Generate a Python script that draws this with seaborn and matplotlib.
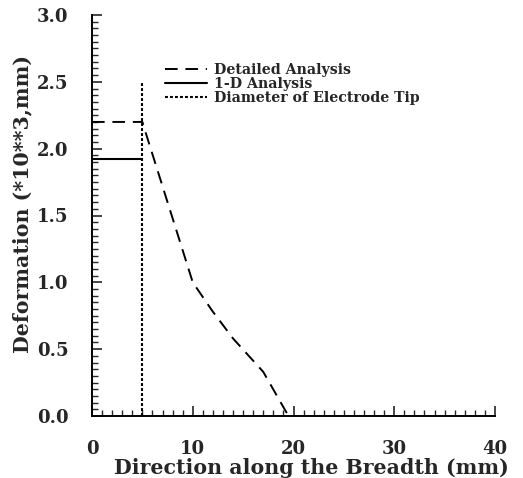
import matplotlib
matplotlib.use("Agg")
import matplotlib.pyplot as plt
import seaborn as sns
import pandas as pd
from matplotlib.ticker import MultipleLocator

# Data
detailed_x = [0, 5, 5.2, 10, 12, 14, 17, 19.5]
detailed_y = [2.2, 2.2, 2.15, 1.0, 0.78, 0.58, 0.33, 0.0]
oned_x = [0, 5]
oned_y = [1.92, 1.92]
tip_x = [5, 5]
tip_y = [0.0, 2.5]
series_labels = ["Detailed Analysis", "1-D Analysis", "Diameter of Electrode Tip"]
x_ticks = [0, 10, 20, 30, 40]
y_ticks = [0.0, 0.5, 1.0, 1.5, 2.0, 2.5, 3.0]

sns.set_style("ticks")
plt.rcParams["font.family"] = ["DejaVu Serif"]
plt.rcParams["font.weight"] = "bold"

fig = plt.figure(figsize=(5.23, 4.78), dpi=100)
ax = fig.add_axes([92 / 523, 1 - 416 / 478, 403 / 523, 401 / 478])

df_det = pd.DataFrame({"x": detailed_x, "y": detailed_y})
df_one = pd.DataFrame({"x": oned_x, "y": oned_y})
df_tip = pd.DataFrame({"x": tip_x, "y": tip_y})

sns.lineplot(data=df_det, x="x", y="y", ax=ax, color="black", lw=1.4,
             sort=False, estimator=None, label=series_labels[0])
ax.lines[-1].set_dashes([6.5, 4])
sns.lineplot(data=df_one, x="x", y="y", ax=ax, color="black", lw=1.5,
             sort=False, estimator=None, label=series_labels[1])
sns.lineplot(data=df_tip, x="x", y="y", ax=ax, color="black", lw=1.5,
             sort=False, estimator=None, label=series_labels[2])
ax.lines[-1].set_dashes([1.4, 1.0])

ax.set_xlim(0, 40)
ax.set_ylim(0, 3.0)
ax.set_xticks(x_ticks)
ax.set_yticks(y_ticks)
ax.set_xticklabels([str(v) for v in x_ticks])
ax.set_yticklabels([f"{v:.1f}" for v in y_ticks])
ax.xaxis.set_minor_locator(MultipleLocator(1))
ax.yaxis.set_minor_locator(MultipleLocator(0.05))
ax.tick_params(which="major", direction="in", length=7, width=1.2,
               labelsize=13)
ax.tick_params(axis="x", which="major", pad=17.5)
ax.tick_params(axis="y", which="major", pad=17)
ax.tick_params(which="minor", direction="in", length=4, width=1.0)
for lab in ax.get_xticklabels() + ax.get_yticklabels():
    lab.set_fontweight("bold")

for s in ["top", "right"]:
    ax.spines[s].set_visible(False)
for s in ["left", "bottom"]:
    ax.spines[s].set_linewidth(1.4)
    ax.spines[s].set_color("black")

ax.set_xlabel("Direction along the Breadth (mm)", fontsize=14.8, fontweight="bold")
ax.set_ylabel("Deformation (*10**3,mm)", fontsize=14.8, fontweight="bold")
ax.xaxis.set_label_coords(0.545, -0.104)
ax.yaxis.set_label_coords(-0.149, 0.53)

leg = ax.legend(loc="upper left", bbox_to_anchor=(0.163, 0.899), frameon=False,
                prop={"size": 10.2, "weight": "bold"}, handlelength=3.0,
                handletextpad=0.5, labelspacing=0.0, borderpad=0)

fig.savefig("out.png", dpi=100)
